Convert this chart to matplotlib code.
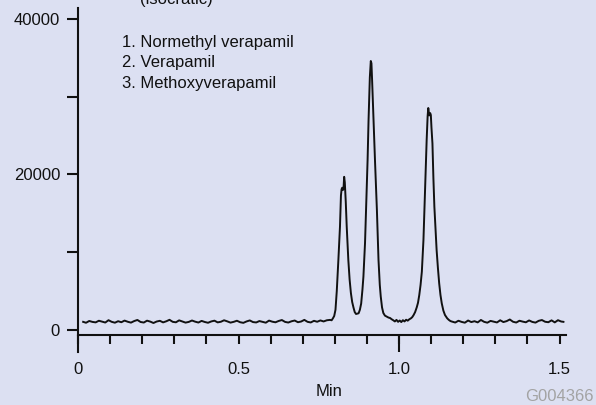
import matplotlib
matplotlib.use("Agg")
import matplotlib.pyplot as plt
import numpy as np

plt.rcParams['font.family'] = ['Liberation Sans', 'DejaVu Sans']

# ---------------- data ----------------
compounds = ["Normethyl verapamil", "Verapamil", "Methoxyverapamil"]
title_note = "(isocratic)"
x_label = "Min"
figure_code = "G004366"

y_ticks = [0, 10000, 20000, 30000, 40000]
y_tick_labels = ["0", "", "20000", "", "40000"]
x_ticks_major = [0, 0.5, 1.0, 1.5]
x_tick_labels = ["0", "0.5", "1.0", "1.5"]
x_ticks_minor = [0.1, 0.2, 0.3, 0.4, 0.6, 0.7, 0.8, 0.9,
                 1.1, 1.2, 1.3, 1.4]

# baseline before the peaks
pre_t = [0.016, 0.025, 0.035, 0.045, 0.055, 0.065, 0.075, 0.085, 0.095, 0.105,
         0.115, 0.125, 0.135, 0.145, 0.155, 0.165, 0.175, 0.185, 0.195, 0.205,
         0.215, 0.225, 0.235, 0.245, 0.255, 0.265, 0.275, 0.285, 0.295, 0.305,
         0.315, 0.325, 0.335, 0.345, 0.355, 0.365, 0.375, 0.385, 0.395, 0.405,
         0.415, 0.425, 0.435, 0.445, 0.455, 0.465, 0.475, 0.485, 0.495, 0.505,
         0.515, 0.525, 0.535, 0.545, 0.555, 0.565, 0.575, 0.585, 0.595, 0.605,
         0.615, 0.625, 0.635, 0.645, 0.655, 0.665, 0.675, 0.685, 0.695, 0.705,
         0.715, 0.725, 0.735, 0.745, 0.755, 0.765, 0.775, 0.785]
pre_v = [1050, 930, 1160, 1040, 980, 1190, 1070, 960, 1260, 1050,
         940, 1130, 1000, 1210, 1060, 950, 1150, 1290, 1030, 960,
         1200, 1080, 900, 1090, 1180, 980, 1120, 1310, 1050, 990,
         1240, 1100, 950, 1040, 1220, 1070, 960, 1170, 1030, 930,
         1100, 1200, 980, 1060, 1250, 1110, 950, 1050, 1190, 1000,
         920, 1100, 1230, 1020, 970, 1150, 1050, 940, 1210, 1070,
         990, 1160, 1280, 1040, 960, 1120, 1220, 1000, 1090, 1300,
         1050, 970, 1180, 1060, 1230, 1100, 1250, 1300]

# peaks 1 and 2
peak12_t = [0.790, 0.794, 0.798, 0.802, 0.806, 0.811, 0.816, 0.819, 0.821, 0.823,
            0.825, 0.827, 0.829, 0.831, 0.834, 0.837, 0.842, 0.846, 0.850, 0.854,
            0.858, 0.862, 0.866, 0.870, 0.874, 0.878, 0.882, 0.886, 0.889, 0.894,
            0.899, 0.902, 0.905, 0.909, 0.912, 0.914, 0.916, 0.920, 0.925, 0.931,
            0.936, 0.940, 0.943, 0.947, 0.951, 0.956, 0.962, 0.967, 0.972, 0.977,
            0.982, 0.987, 0.992, 0.997]
peak12_v = [1250, 1500, 1800, 2600, 5000, 9000, 13300, 17300, 18100, 18300,
            18000, 18200, 19700, 19000, 16500, 13300, 9000, 6500, 4760, 3600,
            2900, 2300, 2060, 2100, 2150, 2600, 3400, 5200, 6860, 11190,
            17600, 21860, 27000, 32500, 34600, 34300, 32200, 27500, 21860, 15430,
            9000, 5800, 4300, 2900, 2190, 1850, 1710, 1600, 1540, 1380,
            1250, 1100, 1300, 1050]

# peak 3
peak3_t = [1.002, 1.007, 1.012, 1.017, 1.022, 1.027, 1.032, 1.037, 1.041, 1.045,
           1.050, 1.055, 1.059, 1.063, 1.067, 1.071, 1.076, 1.081, 1.086, 1.089,
           1.091, 1.094, 1.097, 1.099, 1.101, 1.104, 1.107, 1.110, 1.117, 1.121,
           1.125, 1.129, 1.133, 1.138, 1.143, 1.150, 1.155, 1.160]
peak3_v = [1220, 1020, 1260, 1100, 1320, 1200, 1380, 1500, 1650, 1900,
           2300, 2900, 3500, 4500, 5800, 7500, 11575, 18000, 24440, 27500,
           28550, 27600, 27900, 27650, 26000, 24000, 19500, 15860, 10290, 8000,
           6000, 4500, 3430, 2500, 1930, 1500, 1300, 1150]

# baseline after the peaks
post_t = [1.165, 1.175, 1.185, 1.195, 1.205, 1.215, 1.225, 1.235, 1.245, 1.255,
          1.265, 1.275, 1.285, 1.295, 1.305, 1.315, 1.325, 1.335, 1.345, 1.355,
          1.365, 1.375, 1.385, 1.395, 1.405, 1.415, 1.425, 1.435, 1.445, 1.455,
          1.465, 1.475, 1.485, 1.495, 1.505, 1.512]
post_v = [1080, 960, 1190, 1040, 940, 1220, 1020, 1130, 980, 1290,
          1050, 940, 1170, 1070, 970, 1250, 1020, 1140, 1350, 1060,
          960, 1190, 1080, 990, 1230, 1040, 950, 1180, 1280, 1060,
          1000, 1240, 980, 1260, 1090, 1050]

# ---------------- figure ----------------
W, H = 596, 405
bg = "#dce0f2"
ink = "#111111"
fig = plt.figure(figsize=(W / 100, H / 100), dpi=100, facecolor=bg)
ax = fig.add_axes([78 / W, 53 / H, (566 - 78) / W, (352 - 8) / H])
ax.set_facecolor(bg)

t = pre_t + peak12_t + peak3_t + post_t
v = pre_v + peak12_v + peak3_v + post_v
ax.plot(t, v, color=ink, lw=1.4, solid_joinstyle="round")

ymin, ymax = -2830, 41415
x_axis_level = -650
ax.set_xlim(0, 1.52)
ax.set_ylim(ymin, ymax)

for s in ("top", "right"):
    ax.spines[s].set_visible(False)
ax.spines["left"].set_linewidth(1.5)
ax.spines["left"].set_color(ink)
ax.spines["bottom"].set_linewidth(1.5)
ax.spines["bottom"].set_color(ink)
ax.spines["bottom"].set_position(("data", x_axis_level))

ax.set_yticks(y_ticks)
ax.set_yticklabels(y_tick_labels)
ax.tick_params(axis="y", direction="out", length=7.9, width=1.5, pad=5,
               labelsize=12, colors=ink)

ax.set_xticks(x_ticks_major)
ax.set_xticklabels(x_tick_labels)
ax.set_xticks(x_ticks_minor, minor=True)
ax.tick_params(axis="x", which="both", direction="out", length=6.5, width=1.5,
               pad=13, labelsize=12, colors=ink)

# long tick at 1.0 min
frac = (x_axis_level - ymin) / (ymax - ymin)
sec = ax.secondary_xaxis(frac)
sec.set_xticks([1.0])
sec.tick_params(axis="x", direction="out", length=12.2, width=1.5,
                labelbottom=False, colors=ink)
sec.spines["bottom"].set_visible(False)

# texts
fig.text(140 / W, 1 - 4 / H, title_note, fontsize=12, color=ink,
         ha="left", va="baseline")
for i, name in enumerate(compounds):
    fig.text(122 / W, 1 - (46.7 + i * 20.6) / H, f"{i + 1}. {name}",
             fontsize=12, color=ink, ha="left", va="baseline")
fig.text(329 / W, 1 - 396 / H, x_label, fontsize=12, color=ink,
         ha="center", va="baseline")
fig.text(594 / W, 1 - 401 / H, figure_code, fontsize=12, color="#a3a3a3",
         ha="right", va="baseline")

fig.savefig("out.png", dpi=100, facecolor=bg)
